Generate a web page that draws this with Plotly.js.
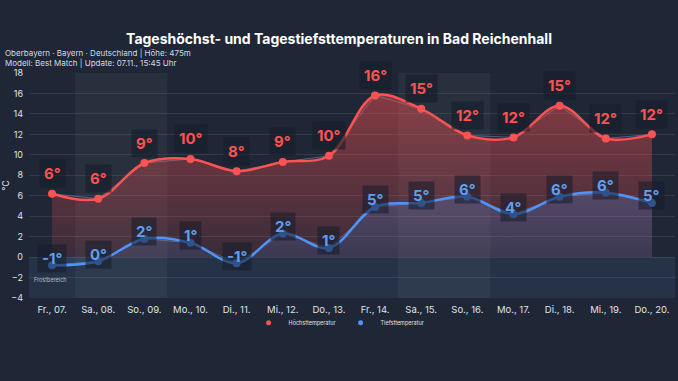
<!DOCTYPE html>
<html>
<head>
<meta charset="utf-8">
<script src="https://cdn.plot.ly/plotly-3.0.1.min.js"></script>
<style>
  html, body { margin: 0; padding: 0; background: #1f2736; }
  #chart { width: 678px; height: 381px; }
</style>
</head>
<body>
<div id="chart"></div>
<script>
const days = ["Fr., 07.", "Sa., 08.", "So., 09.", "Mo., 10.", "Di., 11.", "Mi., 12.", "Do., 13.",
              "Fr., 14.", "Sa., 15.", "So., 16.", "Mo., 17.", "Di., 18.", "Mi., 19.", "Do., 20."];
const high = [6.2, 5.7, 9.2, 9.6, 8.4, 9.3, 9.9, 15.8, 14.5, 11.9, 11.7, 14.8, 11.6, 12.0];
const low = [-0.8, -0.4, 1.8, 1.4, -0.6, 2.3, 0.9, 4.9, 5.3, 5.9, 4.2, 5.9, 6.3, 5.3];
const highLabels = ["6°", "6°", "9°", "10°", "8°", "9°", "10°", "16°", "15°", "12°", "12°", "15°", "12°", "12°"];
const lowLabels = ["-1°", "0°", "2°", "1°", "-1°", "2°", "1°", "5°", "5°", "6°", "4°", "6°", "6°", "5°"];
const yTicks = [-4, -2, 0, 2, 4, 6, 8, 10, 12, 14, 16, 18];
const seriesNames = ["Höchsttemperatur", "Tiefsttemperatur"];

const RED = "#ff5252";
const BLUE = "#4d94ff";
const FONT = "Inter, 'Noto Sans', sans-serif";

const traces = [
  // faint straight connectors
  { x: days, y: high, mode: "lines", line: { color: "rgba(120,140,185,0.55)", width: 1 }, hoverinfo: "skip", showlegend: false },
  { x: days, y: low, mode: "lines", line: { color: "rgba(120,140,185,0.55)", width: 1 }, hoverinfo: "skip", showlegend: false },
  {
    x: days, y: high, name: seriesNames[0], mode: "lines+markers",
    line: { color: RED, width: 2.5, shape: "spline", smoothing: 1 },
    marker: { color: RED, size: 8 },
    fill: "tozeroy",
    fillgradient: { type: "vertical", start: 0, stop: Math.max(...high),
      colorscale: [[0, "rgba(255,82,82,0.12)"], [1, "rgba(255,82,82,0.45)"]] },
    showlegend: false
  },
  {
    x: days, y: low, name: seriesNames[1], mode: "lines+markers",
    line: { color: BLUE, width: 2.5, shape: "spline", smoothing: 1 },
    marker: { color: BLUE, size: 8 },
    fill: "tozeroy",
    fillgradient: { type: "vertical", start: 0, stop: Math.max(...low),
      colorscale: [[0, "rgba(77,148,255,0.12)"], [1, "rgba(77,148,255,0.22)"]] },
    showlegend: false
  },
  // legend entries
  { x: [null], y: [null], name: seriesNames[0], mode: "markers", marker: { color: RED, size: 5 }, showlegend: true },
  { x: [null], y: [null], name: seriesNames[1], mode: "markers", marker: { color: BLUE, size: 5 }, showlegend: true }
];

const annotations = [];
days.forEach((d, i) => {
  annotations.push({
    x: d, y: high[i], text: highLabels[i], showarrow: false, yshift: 20,
    font: { family: FONT, size: 15, color: RED, weight: 700 },
    bgcolor: "rgba(22,28,42,0.6)", borderpad: 4
  });
  annotations.push({
    x: d, y: low[i], text: lowLabels[i], showarrow: false, yshift: 7,
    font: { family: FONT, size: 15, color: "#5e9ff0", weight: 700 },
    bgcolor: "rgba(22,28,42,0.55)", borderpad: 4
  });
});
annotations.push({
  xref: "paper", yref: "paper", x: -0.0395, y: 1.09, xanchor: "left", yanchor: "middle",
  text: "Oberbayern · Bayern · Deutschland | Höhe: 475m", showarrow: false,
  font: { family: FONT, size: 8, color: "#d4d8e0" }
});
annotations.push({
  xref: "paper", yref: "paper", x: -0.0395, y: 1.043, xanchor: "left", yanchor: "middle",
  text: "Modell: Best Match | Update: 07.11., 15:45 Uhr", showarrow: false,
  font: { family: FONT, size: 8, color: "#d4d8e0" }
});
annotations.push({
  xref: "paper", yref: "y", x: 0.005, y: -2.2, xanchor: "left", yanchor: "middle",
  text: "Frostbereich", showarrow: false,
  font: { family: FONT, size: 5.5, color: "#b8bfcc" }
});

// weekend bands
const shapes = [];
days.forEach((d, i) => {
  if (d.startsWith("Sa.")) {
    shapes.push({ type: "rect", xref: "x", yref: "paper", x0: i - 0.5, x1: i + 1.5, y0: 0, y1: 1,
      fillcolor: "rgba(255,255,255,0.045)", line: { width: 0 }, layer: "below" });
  }
});
shapes.push({ type: "rect", xref: "paper", yref: "y", x0: 0, x1: 1, y0: Math.min(...yTicks), y1: 0,
  fillcolor: "rgba(90,130,200,0.12)", line: { width: 0 }, layer: "below" });

const layout = {
  width: 678, height: 381,
  paper_bgcolor: "#1f2736", plot_bgcolor: "#1f2736",
  margin: { l: 29, r: 3, t: 73, b: 83 },
  font: { family: FONT, color: "#dfe3ea" },
  title: {
    text: "<b>Tageshöchst- und Tagestiefsttemperaturen in Bad Reichenhall</b>",
    x: 0.5, xanchor: "center", y: 0.898, yanchor: "middle", yref: "container",
    font: { family: FONT, size: 14, color: "#ffffff" }
  },
  xaxis: {
    type: "category", range: [-0.5, days.length - 0.5],
    showgrid: false, zeroline: false, showline: false, ticks: "",
    ticklabelstandoff: 4,
    tickfont: { family: FONT, size: 9.5, color: "#dfe3ea" },
    fixedrange: true
  },
  yaxis: {
    range: [Math.min(...yTicks), Math.max(...yTicks)], tickvals: yTicks,
    showgrid: true, gridcolor: "rgba(255,255,255,0.09)", gridwidth: 1,
    zeroline: false, showline: false, ticks: "",
    ticklabelstandoff: 5,
    tickfont: { family: FONT, size: 9, color: "#dfe3ea" },
    title: { text: "°C", font: { family: FONT, size: 9, color: "#dfe3ea" }, standoff: 4 },
    fixedrange: true
  },
  showlegend: true,
  legend: {
    orientation: "h", x: 0.48, xanchor: "center", y: -0.11, yanchor: "middle",
    font: { family: FONT, size: 5.5, color: "#dfe3ea" },
    bgcolor: "rgba(0,0,0,0)", itemwidth: 30, tracegroupgap: 0
  },
  annotations: annotations,
  shapes: shapes
};

Plotly.newPlot("chart", traces, layout, { displayModeBar: false, staticPlot: true });
</script>
</body>
</html>
